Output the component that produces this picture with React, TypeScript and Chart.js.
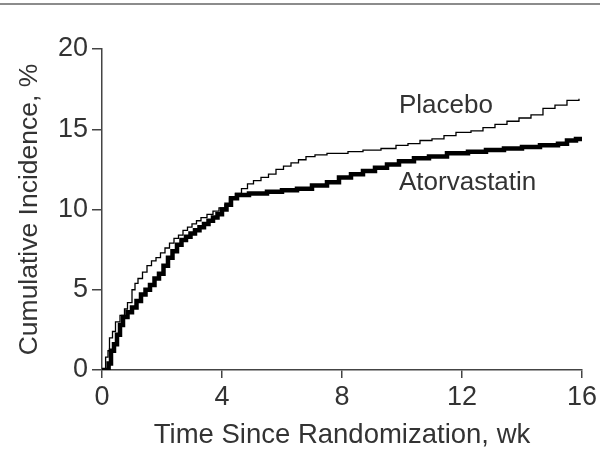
import React, { useEffect, useRef } from "react";
import { Chart, registerables } from "chart.js";

Chart.register(...registerables);

// Time (weeks) at which each step occurs, and cumulative incidence (%) after the step
const placeboWeeks = [0, 0.12, 0.2, 0.25, 0.35, 0.45, 0.6, 0.75, 0.85, 1.0, 1.1, 1.2, 1.35, 1.5, 1.65, 1.8, 1.95, 2.1, 2.25, 2.4, 2.55, 2.7, 2.85, 3.0, 3.15, 3.3, 3.5, 3.7, 3.9, 4.1, 4.25, 4.45, 4.65, 4.85, 5.05, 5.3, 5.55, 5.8, 6.05, 6.3, 6.55, 6.8, 7.1, 7.5, 8.2, 8.7, 9.3, 9.8, 10.2, 10.6, 11.0, 11.4, 11.8, 12.3, 12.7, 13.1, 13.5, 13.9, 14.3, 14.7, 15.1, 15.5, 15.9];
const placeboIncidence = [0, 0.8, 1.2, 2.0, 2.4, 3.0, 3.4, 3.8, 4.2, 5.0, 5.4, 5.7, 6.1, 6.5, 6.8, 7.0, 7.3, 7.6, 7.9, 8.2, 8.4, 8.7, 8.9, 9.1, 9.3, 9.5, 9.7, 9.9, 10.1, 10.3, 10.7, 11.0, 11.3, 11.6, 11.8, 12.0, 12.2, 12.5, 12.7, 12.9, 13.1, 13.3, 13.4, 13.5, 13.6, 13.7, 13.8, 14.0, 14.1, 14.3, 14.4, 14.6, 14.8, 14.9, 15.1, 15.3, 15.5, 15.7, 15.9, 16.3, 16.5, 16.8, 16.9];

const atorvaWeeks = [0, 0.22, 0.3, 0.4, 0.5, 0.6, 0.7, 0.85, 1.0, 1.15, 1.3, 1.45, 1.6, 1.75, 1.9, 2.05, 2.2, 2.35, 2.5, 2.65, 2.8, 2.95, 3.1, 3.25, 3.4, 3.55, 3.7, 3.85, 4.0, 4.15, 4.3, 4.5, 4.9, 5.5, 6.0, 6.5, 7.0, 7.5, 7.9, 8.3, 8.7, 9.1, 9.5, 9.9, 10.4, 10.9, 11.5, 12.2, 12.8, 13.4, 14.0, 14.6, 15.2, 15.5, 15.8, 16.0];
const atorvaIncidence = [0, 0.4, 1.2, 1.6, 2.2, 2.8, 3.3, 3.6, 3.9, 4.3, 4.7, 5.0, 5.3, 5.7, 6.0, 6.5, 7.0, 7.4, 7.8, 8.1, 8.3, 8.5, 8.7, 8.9, 9.1, 9.3, 9.5, 9.7, 10.0, 10.3, 10.7, 10.9, 11.0, 11.1, 11.2, 11.3, 11.5, 11.7, 12.0, 12.2, 12.4, 12.6, 12.8, 13.0, 13.2, 13.3, 13.5, 13.6, 13.7, 13.8, 13.9, 14.0, 14.1, 14.3, 14.4, 14.4];

const seriesNames = ["Placebo", "Atorvastatin"];
// label anchor positions in data units (week, %)
const labelWeeks = [9.9, 9.9];
const labelValues = [16.45, 11.65];

const xTicks = [0, 4, 8, 12, 16];
const yTicks = [0, 5, 10, 15, 20];

const FONT = "'Liberation Sans', Arial, Helvetica, sans-serif";
const TEXT = "#333333";

export default function App() {
  const ref = useRef<HTMLCanvasElement | null>(null);

  useEffect(() => {
    if (!ref.current) return;
    const toPts = (xs: number[], ys: number[]) => xs.map((x, i) => ({ x, y: ys[i] }));

    const decor = {
      id: "decor",
      beforeDraw(chart: any) {
        const ctx = chart.ctx;
        ctx.save();
        ctx.fillStyle = "#ffffff";
        ctx.fillRect(0, 0, chart.width, chart.height);
        ctx.fillStyle = "#8c8c8c";
        ctx.fillRect(0, 3, chart.width, 2);
        ctx.restore();
      },
      afterDatasetsDraw(chart: any) {
        const ctx = chart.ctx;
        const xs = chart.scales.x;
        const ys = chart.scales.y;
        ctx.save();
        ctx.font = `26px ${FONT}`;
        ctx.fillStyle = TEXT;
        ctx.textAlign = "left";
        ctx.textBaseline = "middle";
        seriesNames.forEach((n, i) => {
          ctx.fillText(n, xs.getPixelForValue(labelWeeks[i]), ys.getPixelForValue(labelValues[i]));
        });
        ctx.restore();
      },
    };

    const chart = new Chart(ref.current, {
      type: "line",
      data: {
        datasets: [
          {
            label: seriesNames[0],
            data: toPts(placeboWeeks, placeboIncidence),
            borderColor: "#000000",
            borderWidth: 1.3,
            pointRadius: 0,
            stepped: "before",
            fill: false,
          },
          {
            label: seriesNames[1],
            data: toPts(atorvaWeeks, atorvaIncidence),
            borderColor: "#000000",
            borderWidth: 4.5,
            pointRadius: 0,
            stepped: "before",
            fill: false,
          },
        ],
      },
      plugins: [decor],
      options: {
        responsive: false,
        animation: false,
        layout: { padding: { top: 49, right: 17, left: 0, bottom: 0 } },
        plugins: { legend: { display: false }, tooltip: { enabled: false } },
        scales: {
          x: {
            type: "linear",
            min: 0,
            max: 16,
            afterFit(s: any) { s.height = 84; },
            afterBuildTicks(s: any) { s.ticks = xTicks.map((v) => ({ value: v })); },
            grid: { display: true, drawOnChartArea: false, tickLength: 8, color: "#444", lineWidth: 1.5 },
            border: { display: true, color: "#444", width: 1.5 },
            ticks: { color: TEXT, font: { family: FONT, size: 27 }, padding: 3, maxRotation: 0 },
            title: {
              display: true,
              text: "Time Since Randomization, wk",
              color: TEXT,
              font: { family: FONT, size: 27.5 },
              padding: { top: 0, bottom: 2 },
            },
          },
          y: {
            type: "linear",
            min: 0,
            max: 20,
            afterFit(s: any) { s.width = 102; },
            afterBuildTicks(s: any) { s.ticks = yTicks.map((v) => ({ value: v })); },
            grid: { display: true, drawOnChartArea: false, tickLength: 10, color: "#444", lineWidth: 1.5 },
            border: { display: true, color: "#444", width: 1.5 },
            ticks: { color: TEXT, font: { family: FONT, size: 27 }, padding: 4 },
            title: {
              display: true,
              text: "Cumulative Incidence, %",
              color: TEXT,
              font: { family: FONT, size: 26.5 },
              padding: { top: 14, bottom: 0 },
            },
          },
        },
      },
    });
    return () => chart.destroy();
  }, []);

  return (
    <div style={{ position: "absolute", left: 0, top: 0, width: 600, height: 454 }}>
      <canvas ref={ref} width={600} height={454} style={{ display: "block" }} />
    </div>
  );
}
